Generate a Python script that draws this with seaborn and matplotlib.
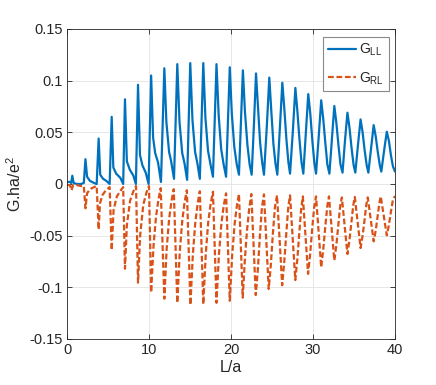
import numpy as np
import pandas as pd
import matplotlib
matplotlib.use("Agg")
import matplotlib.pyplot as plt
import seaborn as sns

# ---- data ----
x_ll = [0.0, 0.35, 0.5, 0.65, 0.8, 1.2, 1.7, 2.05,
        2.25, 2.45, 2.8, 3.3, 3.62,
        3.86, 4.05, 4.4, 4.8, 5.2,
        5.45, 5.65, 6.0, 6.5, 6.85,
        7.07, 7.3, 7.65, 8.1, 8.4,
        8.66, 8.9, 9.2, 9.6, 9.95,
        10.26, 10.5, 10.75, 11.1, 11.46,
        11.87, 12.12, 12.45, 12.7, 13.05,
        13.45, 13.72, 14.05, 14.33, 14.65,
        15.03, 15.3, 15.62, 15.9, 16.2,
        16.62, 16.88, 17.2, 17.5, 17.8,
        18.23, 18.5, 18.8, 19.1, 19.4,
        19.85, 20.1, 20.4, 20.7, 20.97,
        21.45, 21.7, 22.0, 22.27, 22.52, 22.8,
        23.05, 23.3, 23.55, 23.8, 24.02, 24.37,
        24.67, 24.92, 25.17, 25.42, 25.65, 25.96,
        26.26, 26.51, 26.76, 27.0, 27.2, 27.55,
        27.85, 28.1, 28.35, 28.6, 28.82, 29.12,
        29.42, 29.67, 29.92, 30.17, 30.37, 30.7,
        31.0, 31.25, 31.5, 31.75, 32.0, 32.3,
        32.6, 32.85, 33.1, 33.35, 33.6, 33.9,
        34.2, 34.45, 34.7, 34.95, 35.16, 35.5,
        35.8, 36.05, 36.3, 36.55, 36.75, 37.1,
        37.4, 37.65, 37.9, 38.15, 38.33, 38.7,
        39.0, 39.25, 39.5, 39.75, 40.0]
g_ll = [0.002, 0.002, 0.001, 0.008, 0.001, 0.0, 0.0, 0.001,
        0.024, 0.007, 0.003, 0.001, 0.0,
        0.044, 0.009, 0.005, 0.003, 0.0,
        0.065, 0.016, 0.010, 0.006, 0.0,
        0.082, 0.022, 0.014, 0.008, 0.0,
        0.096, 0.028, 0.018, 0.011, 0.0,
        0.105, 0.045, 0.030, 0.021, 0.002,
        0.112, 0.060, 0.031, 0.022, 0.005,
        0.116, 0.060, 0.030, 0.020, 0.004,
        0.117, 0.062, 0.031, 0.020, 0.005,
        0.117, 0.064, 0.032, 0.019, 0.007,
        0.116, 0.066, 0.034, 0.019, 0.007,
        0.113, 0.068, 0.036, 0.019, 0.009,
        0.110, 0.070, 0.038, 0.019, 0.009, 0.058,
        0.107, 0.073, 0.040, 0.021, 0.009, 0.056,
        0.103, 0.070, 0.039, 0.020, 0.009, 0.054,
        0.098, 0.072, 0.043, 0.021, 0.010, 0.052,
        0.093, 0.070, 0.043, 0.021, 0.010, 0.049,
        0.087, 0.068, 0.042, 0.020, 0.010, 0.046,
        0.081, 0.063, 0.040, 0.019, 0.010, 0.043,
        0.0755, 0.059, 0.038, 0.019, 0.011, 0.042,
        0.069, 0.0545, 0.035, 0.0185, 0.011, 0.039,
        0.0625, 0.050, 0.0325, 0.018, 0.011, 0.036,
        0.057, 0.046, 0.031, 0.018, 0.012, 0.034,
        0.0506, 0.042, 0.028, 0.017, 0.012]

x_rl = [0.0, 0.35, 0.55, 0.75, 1.2, 1.7, 2.05,
        2.25, 2.45, 2.8, 3.3, 3.62,
        3.86, 4.02, 4.3, 4.7, 5.2,
        5.45, 5.68, 6.08, 6.57, 6.85,
        7.07, 7.3, 7.7, 8.1, 8.42,
        8.66, 8.92, 9.3, 9.7, 10.0,
        10.26, 10.55, 10.85, 11.15, 11.43,
        11.87, 12.15, 12.45, 12.75, 13.02,
        13.45, 13.75, 14.05, 14.35, 14.62,
        15.05, 15.35, 15.65, 15.95, 16.2,
        16.62, 16.92, 17.22, 17.52, 17.8,
        18.23, 18.53, 18.83, 19.13, 19.4,
        19.85, 20.15, 20.45, 20.72, 20.97,
        21.43, 21.7, 21.95, 22.22, 22.48, 22.75,
        23.02, 23.27, 23.52, 23.77, 24.02, 24.31,
        24.6, 24.85, 25.1, 25.35, 25.61, 25.93,
        26.24, 26.49, 26.74, 26.99, 27.2, 27.52,
        27.84, 28.09, 28.34, 28.56, 28.76, 29.08,
        29.4, 29.65, 29.9, 30.15, 30.37, 30.68,
        31.0, 31.25, 31.5, 31.75, 31.95, 32.28,
        32.6, 32.85, 33.1, 33.32, 33.52, 33.86,
        34.2, 34.45, 34.7, 34.92, 35.1, 35.45,
        35.8, 36.05, 36.3, 36.5, 36.68, 37.04,
        37.4, 37.65, 37.9, 38.1, 38.26, 38.63,
        39.0, 39.25, 39.5, 39.75, 40.0]
g_rl = [-0.001, -0.001, -0.006, -0.001, -0.001, -0.002, -0.002,
        -0.0235, -0.009, -0.005, -0.003, -0.002,
        -0.044, -0.019, -0.011, -0.0065, -0.003,
        -0.064, -0.025, -0.012, -0.006, -0.003,
        -0.082, -0.040, -0.016, -0.007, -0.002,
        -0.0955, -0.050, -0.020, -0.008, -0.002,
        -0.105, -0.060, -0.032, -0.015, -0.004,
        -0.111, -0.063, -0.034, -0.016, -0.005,
        -0.115, -0.066, -0.036, -0.017, -0.006,
        -0.117, -0.068, -0.037, -0.018, -0.007,
        -0.1165, -0.068, -0.037, -0.019, -0.0075,
        -0.115, -0.068, -0.038, -0.020, -0.009,
        -0.113, -0.068, -0.038, -0.021, -0.0097,
        -0.110, -0.072, -0.045, -0.024, -0.0097, -0.058,
        -0.1075, -0.083, -0.051, -0.0227, -0.010, -0.056,
        -0.1016, -0.079, -0.049, -0.023, -0.011, -0.054,
        -0.098, -0.076, -0.048, -0.022, -0.011, -0.052,
        -0.093, -0.073, -0.046, -0.024, -0.012, -0.050,
        -0.087, -0.068, -0.0435, -0.022, -0.012, -0.046,
        -0.0806, -0.0635, -0.041, -0.021, -0.012, -0.043,
        -0.074, -0.059, -0.039, -0.021, -0.013, -0.040,
        -0.0678, -0.054, -0.036, -0.020, -0.0126, -0.037,
        -0.062, -0.050, -0.034, -0.020, -0.013, -0.034,
        -0.0555, -0.045, -0.030, -0.018, -0.012, -0.031,
        -0.0497, -0.040, -0.027, -0.015, -0.0116]

x_ticks = [0, 10, 20, 30, 40]
y_ticks = [-0.15, -0.1, -0.05, 0, 0.05, 0.1, 0.15]
y_tick_labels = ["-0.15", "-0.1", "-0.05", "0", "0.05", "0.1", "0.15"]
series_labels = [r"G$_{\mathregular{LL}}$", r"G$_{\mathregular{RL}}$"]
x_label = "L/a"
y_label = r"G.ha/e$^{\mathregular{2}}$"

# ---- style ----
sns.set_theme(style="ticks")
plt.rcParams["font.family"] = ["Liberation Sans", "DejaVu Sans"]
plt.rcParams["mathtext.fontset"] = "custom"
plt.rcParams["mathtext.rm"] = "Liberation Sans"

blue = "#0072BD"
orange = "#D95319"
axcol = "#262626"

fig = plt.figure(figsize=(4.36, 3.85), dpi=100)
ax = fig.add_axes([67 / 436, 1 - 339 / 385, (395 - 67) / 436, (339 - 29) / 385])

df_ll = pd.DataFrame({"x": x_ll, "y": g_ll})
df_rl = pd.DataFrame({"x": x_rl, "y": g_rl})
sns.lineplot(data=df_ll, x="x", y="y", ax=ax, color=blue, linewidth=1.6,
             sort=False, label=series_labels[0])
sns.lineplot(data=df_rl, x="x", y="y", ax=ax, color=orange, linewidth=1.6,
             sort=False, label=series_labels[1], linestyle=(0, (2.6, 1.2)))

ax.set_xlim(0, 40)
ax.set_ylim(-0.15, 0.15)
ax.set_xticks(x_ticks)
ax.set_xticklabels([str(t) for t in x_ticks])
ax.set_yticks(y_ticks)
ax.set_yticklabels(y_tick_labels)
ax.grid(True, color="#e3e3e3", linewidth=0.6)
ax.set_axisbelow(True)
for s in ax.spines.values():
    s.set_color(axcol)
    s.set_linewidth(0.6)
    s.set_visible(True)
ax.tick_params(direction="in", length=3.5, width=0.6, colors=axcol,
               top=True, right=True, labelsize=10.5, pad=3)
ax.set_xlabel(x_label, fontsize=11.5, color=axcol, labelpad=2)
ax.set_ylabel(y_label, fontsize=11.5, color=axcol, labelpad=4)

leg = ax.legend(loc="upper right", bbox_to_anchor=(0.982, 0.974),
                frameon=True, fancybox=False, framealpha=1,
                edgecolor="#8a8a8a", fontsize=10, handlelength=2.0,
                labelspacing=0.85, borderpad=0.35, handletextpad=0.25,
                borderaxespad=0)
leg.get_frame().set_linewidth(0.8)

fig.savefig("out.png", dpi=100)
